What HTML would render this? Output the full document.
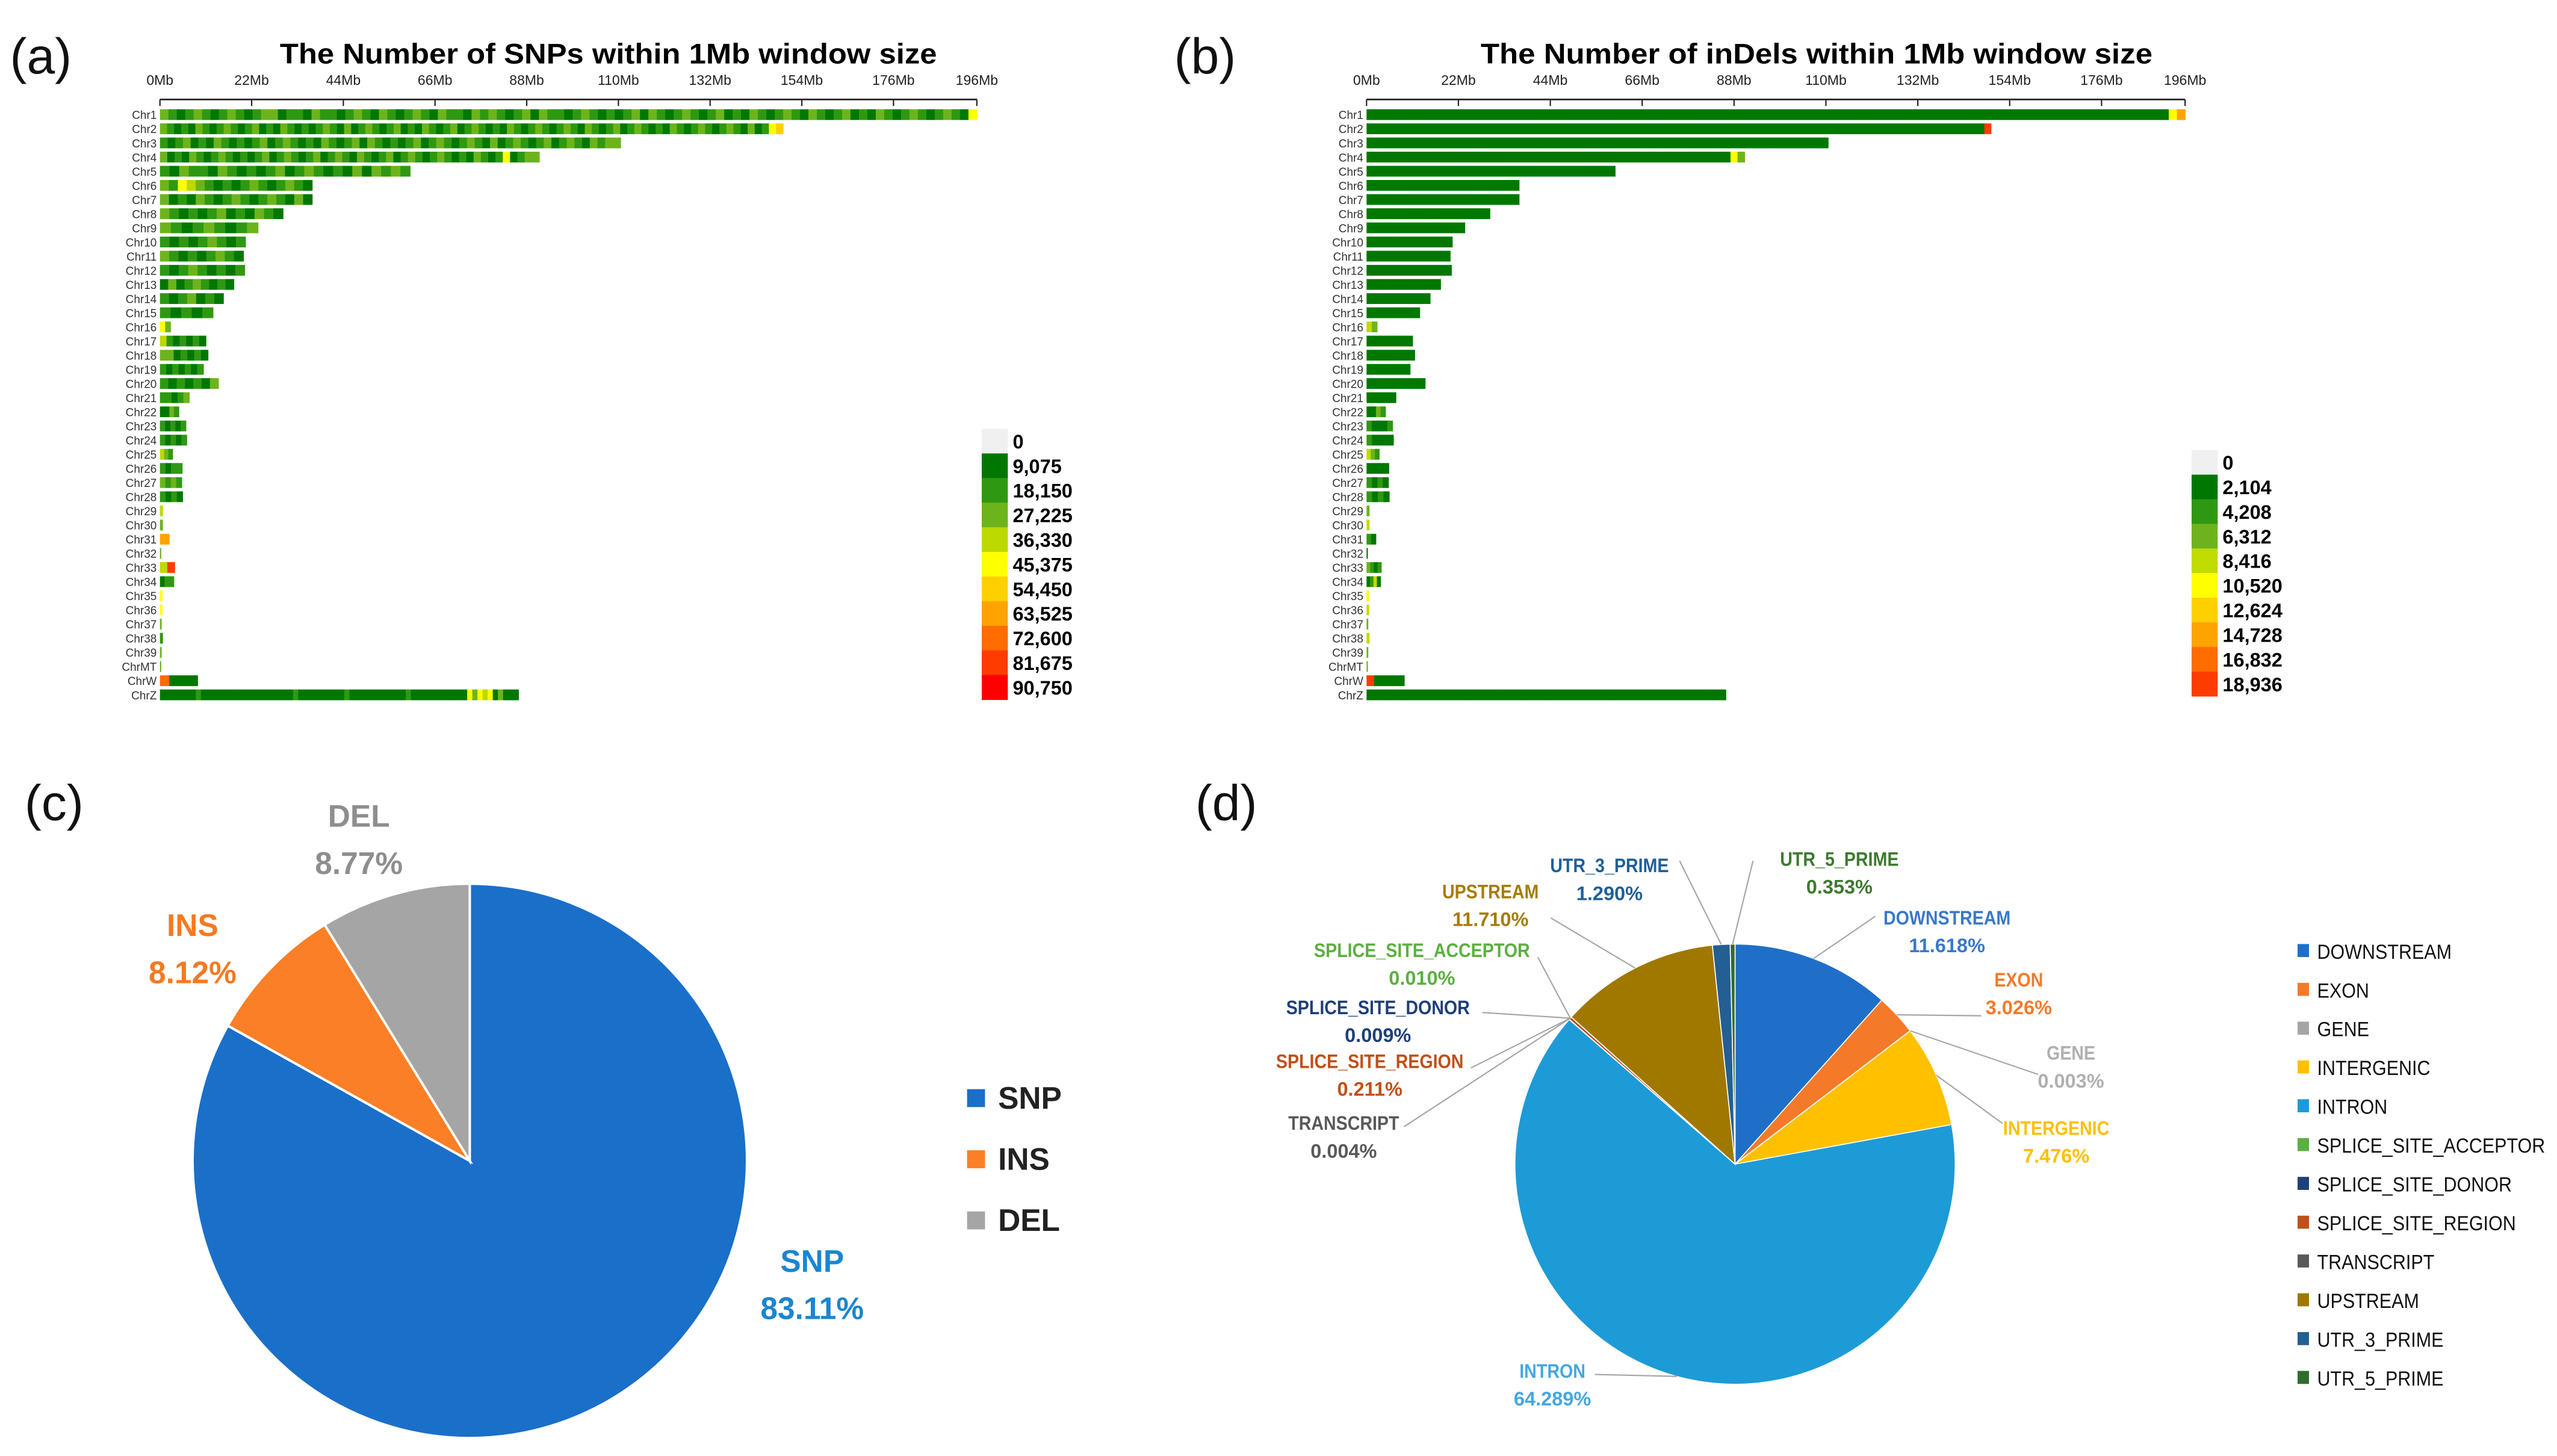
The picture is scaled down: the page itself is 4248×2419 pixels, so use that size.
<!DOCTYPE html>
<html><head><meta charset="utf-8"><style>
html,body{margin:0;padding:0;background:#fff;}
svg{display:block;}
text{font-family:"Liberation Sans Narrow","Liberation Sans",sans-serif;}
</style></head><body>
<svg id="fig" width="4248" height="2419" viewBox="0 0 1568 893" xmlns="http://www.w3.org/2000/svg">
<rect width="1568" height="893" fill="#fff"/>
<g font-family="Liberation Sans, sans-serif" font-size="31" fill="#111">
<text x="6" y="45" style="font-family:'Liberation Sans',sans-serif">(a)</text>
<text x="720" y="45" style="font-family:'Liberation Sans',sans-serif">(b)</text>
<text x="15" y="503" style="font-family:'Liberation Sans',sans-serif">(c)</text>
<text x="733" y="503" style="font-family:'Liberation Sans',sans-serif">(d)</text>
</g>
<text x="373" y="39" text-anchor="middle" font-weight="bold" font-size="17.5" textLength="403" lengthAdjust="spacingAndGlyphs" fill="#000">The Number of SNPs within 1Mb window size</text>
<text x="1114" y="39" text-anchor="middle" font-weight="bold" font-size="17.5" textLength="412" lengthAdjust="spacingAndGlyphs" fill="#000">The Number of inDels within 1Mb window size</text>
<g id="heatA"></g>
<g id="heatB"></g>
<g id="pieC"></g>
<g id="pieD"></g>
</svg>
<script>
const chrNames = ["Chr1","Chr2","Chr3","Chr4","Chr5","Chr6","Chr7","Chr8","Chr9","Chr10","Chr11","Chr12","Chr13","Chr14","Chr15","Chr16","Chr17","Chr18","Chr19","Chr20","Chr21","Chr22","Chr23","Chr24","Chr25","Chr26","Chr27","Chr28","Chr29","Chr30","Chr31","Chr32","Chr33","Chr34","Chr35","Chr36","Chr37","Chr38","Chr39","ChrMT","ChrW","ChrZ"];
const chrLenA = [196,149.5,110.5,91,60,36.5,36.5,29.5,23.5,20.5,20,20.3,17.7,15.2,12.7,2.5,11,11.5,10.4,14,7,4.5,6.2,6.4,3,5.3,5.2,5.4,0.6,0.6,2.2,0.2,3.5,3.3,0.5,0.5,0.3,0.6,0.3,0.2,9,86];
const chrLenB = [196,149.5,110.5,90.5,59.5,36.5,36.5,29.5,23.5,20.5,20,20.3,17.7,15.2,12.7,2.5,11,11.5,10.4,14,7,4.5,6.2,6.4,3,5.3,5.2,5.4,0.6,0.6,2.2,0.2,3.5,3.3,0.5,0.5,0.3,0.6,0.3,0.2,9,86];
const levelsA = ["3212321232123312213221232132123213221323212313221232121231321232123121321232132123121321232123215",
"3212132123212312132121232131232123121321231232121321232123213212312321213212321232131256",
"212312132121231232121321231321212312321232131232123123213233",
"3121321232121231232123123213212312321232121321251233",
"21322132121231232121313232",
"32543212123212321",
"31213212321232131",
"3212123121321",
"321232123","212123212","321212321","212321212","131232121","2123121","21212","53","4212121","3312121","2121212","2121213","22123","1132","21212","21212","432","2122","3232","2121","4","3","7","3","49","122","5","5","3","2","3","3","8111","1111111211111111111111111121111111112111111111112111111111115354513111"];
const levelsB = ["1111111111111111111111111111111111111111111111111111111111111111111111111111111111111111111111111157",
"11111111111111111111111111111111111111111111111111111111111111111111111111111111111111111111119",
"1111111111111111111111111111111111111111111111111111111","111111111111111111111111111111111111111111111111111153","11111111111111111111111111111",
"11111111111111111","11111111111111111","111111111111","111111111","111111111","111111111","111111111","111111111","1111111","11111","43","1111111","1111111","1111111","1111111","11111","1132","21112","21111","432","1111","2121","2121","3","4","21","1","3212","1241","5","4","3","4","3","3","91111","1111111111111111111111111111111111111111111111111111111111111111111111111111111111111"];
const legendA = ["0","9,075","18,150","27,225","36,330","45,375","54,450","63,525","72,600","81,675","90,750"];
const legendB = ["0","2,104","4,208","6,312","8,416","10,520","12,624","14,728","16,832","18,936"];
const tickMb = [0,22,44,66,88,110,132,154,176,196];
const colorsA = ["#f0f0f0","#007800","#2f9812","#6db41c","#bcd900","#ffff00","#ffd000","#ffa300","#ff6c00","#ff3c00","#ff0000"];
const colorsB = ["#f0f0f0","#007800","#2f9812","#6db41c","#c0dc00","#ffff00","#ffd000","#ffa300","#ff6c00","#ff3c00"];

const pieCLabels = ["SNP","INS","DEL"];
const pieCValues = [83.11,8.12,8.77];
const pieCColors = ["#1a6fc9","#fb7f26","#a5a5a5"];

const pieDLabels = ["DOWNSTREAM","EXON","GENE","INTERGENIC","INTRON","SPLICE_SITE_ACCEPTOR","SPLICE_SITE_DONOR","SPLICE_SITE_REGION","TRANSCRIPT","UPSTREAM","UTR_3_PRIME","UTR_5_PRIME"];
const pieDValues = [11.618,3.026,0.003,7.476,64.289,0.010,0.009,0.211,0.004,11.710,1.290,0.353];
const pieDColors = ["#1f6fc8","#f47a2a","#a5a5a5","#ffc000","#1d9bd7","#5bb040","#1f3f7a","#c05018","#595959","#a07800","#235f92","#2f6e2a"];
const pieDTextColors = ["#3a78c8","#f47a2a","#b0b0b0","#ffc000","#45a7e0","#5bb040","#1f3f7a","#c05018","#595959","#a67c00","#1f5f9a","#3d7a2e"];

const NS="http://www.w3.org/2000/svg";
function mk(tag,attrs,parent){const e=document.createElementNS(NS,tag);for(const k in attrs)e.setAttribute(k,attrs[k]);parent.appendChild(e);return e;}
function squeeze(t,f){const w=t.getComputedTextLength();if(w>0){t.setAttribute('textLength',(w*f).toFixed(1));t.setAttribute('lengthAdjust','spacingAndGlyphs');}}

function drawHeat(gid,x0,x1,lens,levels,colors,legend,legX,legTop,rowName){
  const g=document.getElementById(gid);
  const xs=mb=>x0+mb*(x1-x0)/196;
  const yRow=i=>67+i*8.68;
  const ax=mk('line',{x1:x0,x2:x1,y1:61,y2:61,stroke:'#222','stroke-width':1},g);
  
  
  tickMb.forEach(m=>{
    const t=mk('line',{x1:xs(m),x2:xs(m),y1:61,y2:65,stroke:'#222','stroke-width':0.8},g);
    
    
    const l=mk('text',{x:xs(m),y:52,'text-anchor':'middle','font-size':8.5,fill:'#222'},g);
    l.textContent=m+'Mb';
    
    
  });
  chrNames.forEach((n,i)=>{
    const y=yRow(i);
    const lb=mk('text',{x:x0-2,y:y+6,'text-anchor':'end','font-size':7,fill:'#333'},g);
    lb.textContent=n;
    
    
    const s=levels[i], L=lens[i], w=L/s.length;
    for(let k=0;k<s.length;k++){
      const r=mk('rect',{x:xs(k*w),y:y,width:Math.max(0.5,xs((k+1)*w)-xs(k*w)+0.3),height:6.6,fill:colors[+s[k]]},g);
      
      
    }
  });
  legend.forEach((v,i)=>{
    const y=legTop+i*15.1;
    const r=mk('rect',{x:legX,y:y,width:16,height:15.3,fill:colors[i]},g);
    
    
    const t=mk('text',{x:legX+19,y:y+12,'font-size':12,'font-weight':'bold',fill:'#000'},g);
    t.textContent=v;
    
    
  });
}
drawHeat('heatA',98,599,chrLenA,levelsA,colorsA,legendA,602,263,'snp');
drawHeat('heatB',838,1340,chrLenB,levelsB,colorsB,legendB,1344,276,'indel');

function arcPath(cx,cy,r,a0,a1){
  const p=a=>[cx+r*Math.sin(a),cy-r*Math.cos(a)];
  const [x0,y0]=p(a0),[x1,y1]=p(a1);
  const large=(a1-a0)>Math.PI?1:0;
  return `M${cx},${cy}L${x0},${y0}A${r},${r} 0 ${large} 1 ${x1},${y1}Z`;
}
// Pie C
(function(){
  const g=document.getElementById('pieC');
  const cx=288,cy=712,r=170;
  const tot=pieCValues.reduce((a,b)=>a+b,0);
  let a=0;
  pieCValues.forEach((v,i)=>{
    const da=v/tot*2*Math.PI;
    const p=mk('path',{d:arcPath(cx,cy,r,a,a+da),fill:pieCColors[i],stroke:'#fff','stroke-width':1.5},g);
    
    
    a+=da;
  });
  const lab=[[498,780,"#1a86d0"],[118,574,"#f47a22"],[220,507,"#8e8e8e"]];
  pieCLabels.forEach((n,i)=>{
    const t1=mk('text',{x:lab[i][0],y:lab[i][1],'text-anchor':'middle','font-size':19,'font-weight':'bold',fill:lab[i][2],style:"font-family:'Liberation Sans',sans-serif"},g);
    t1.textContent=n;
    
    
    const t2=mk('text',{x:lab[i][0],y:lab[i][1]+29,'text-anchor':'middle','font-size':19,'font-weight':'bold',fill:lab[i][2],style:"font-family:'Liberation Sans',sans-serif"},g);
    t2.textContent=pieCValues[i].toFixed(2)+'%';
    
    
    const sq=mk('rect',{x:593,y:668+i*37.5,width:11,height:11,fill:pieCColors[i]},g);
    
    
    const lt=mk('text',{x:612,y:680+i*37.5,'font-size':19,'font-weight':'bold',fill:'#222',style:"font-family:'Liberation Sans',sans-serif"},g);
    lt.textContent=n;
    
    
  });
})();
// Pie D
(function(){
  const g=document.getElementById('pieD');
  const cx=1064,cy=714,r=135;
  const tot=pieDValues.reduce((a,b)=>a+b,0);
  let a=0; const mids=[];
  pieDValues.forEach((v,i)=>{
    const da=v/tot*2*Math.PI;
    const p=mk('path',{d:arcPath(cx,cy,r,a,a+da),fill:pieDColors[i],stroke:'#fff','stroke-width':0.6},g);
    
    
    mids.push(a+da/2);
    a+=da;
  });
  const pos=[[1194,567,1150,562],[1238,605,1215,623],[1270,650,1250,659],[1261,696,1228,689],[952,845,978,843],[872,587,943,587],[845,622,909,621],[840,655,902,655],[824,693,861,691],[914,551,951,563],[987,535,1030,528],[1128,531,1075,528]];
  pieDLabels.forEach((n,i)=>{
    const P=pos[i];
    const ex=cx+r*Math.sin(mids[i]), ey=cy-r*Math.cos(mids[i]);
    let tx=ex,ty=ey;
    if(i>=5&&i<=8){tx=cx+r*Math.sin(mids[7]);ty=cy-r*Math.cos(mids[7]);}
    const ln=mk('polyline',{points:`${tx},${ty} ${P[2]},${P[3]}`,fill:'none',stroke:'#a6a6a6','stroke-width':0.8},g);
    
    
    const t1=mk('text',{x:P[0],y:P[1],'text-anchor':'middle','font-size':12,'font-weight':'bold',fill:pieDTextColors[i]},g);
    t1.textContent=n;
    
    
    squeeze(t1,0.88);
    const t2=mk('text',{x:P[0],y:P[1]+17,'text-anchor':'middle','font-size':12,'font-weight':'bold',fill:pieDTextColors[i]},g);
    t2.textContent=pieDValues[i].toFixed(3)+'%';
    
    
    const sq=mk('rect',{x:1409,y:579+i*23.8,width:7,height:8,fill:pieDColors[i]},g);
    
    
    const lt=mk('text',{x:1421,y:588+i*23.8,'font-size':12.5,fill:'#111'},g);
    lt.textContent=n;
    
    
    squeeze(lt,0.9);
  });
})();
</script>
</body></html>
